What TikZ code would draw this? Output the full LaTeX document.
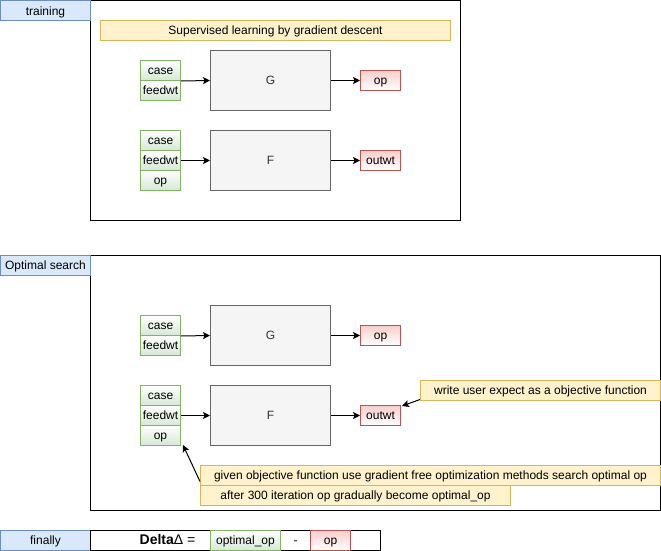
\documentclass[tikz,border=0pt]{standalone}
\usepackage{fontspec}
\setmainfont{Liberation Sans}
\usetikzlibrary{arrows.meta}
\definecolor{bluef}{HTML}{DAE8FC}
\definecolor{blued}{HTML}{6C8EBF}
\definecolor{yelf}{HTML}{FFF2CC}
\definecolor{yeld}{HTML}{D6B656}
\definecolor{greenf}{HTML}{D5E8D4}
\definecolor{greend}{HTML}{82B366}
\definecolor{redf}{HTML}{F8CECC}
\definecolor{redd}{HTML}{B85450}
\definecolor{grayf}{HTML}{F5F5F5}
\definecolor{grayd}{HTML}{666666}
\definecolor{txt}{HTML}{333333}
\tikzset{
  base/.style={rectangle, inner sep=0pt, anchor=north west, line width=1pt, font=\fontsize{12}{14}\selectfont, text height=10.9pt, text depth=2.5pt},
  lbl/.style={base, draw=blued, fill=bluef, minimum width=90pt, minimum height=20pt},
  frame/.style={draw=black, line width=1pt},
  note/.style={base, draw=yeld, fill=yelf, minimum height=20pt},
  inp/.style={base, draw=greend, top color=white, bottom color=greenf, minimum width=40pt, minimum height=20pt},
  outp/.style={base, draw=redd, top color=redf, bottom color=white, minimum width=40pt, minimum height=20pt},
  func/.style={base, draw=grayd, fill=grayf, text=txt, minimum width=120pt, minimum height=60pt},
  arr/.style={-{Stealth[length=7pt,width=7pt,inset=1.5pt]}, line width=1pt},
}
\begin{document}
\begin{tikzpicture}[x=1pt,y=-1pt]
\useasboundingbox (0,0) rectangle (661,551);
% training
\draw[frame] (90,0.5) rectangle (460,220);
\node[lbl] (ltrain) at (0,0.5) {training};
\node[note, minimum width=350pt] (sup) at (100,20) {Supervised learning by gradient descent};
\node[inp] (gcase1) at (140,60) {case};
\node[inp] (gfeed1) at (140,80) {feedwt};
\node[func] (G1) at (210,50) {G};
\node[outp] (gop1) at (360,70) {op};
\node[inp] (fcase1) at (140,130) {case};
\node[inp] (ffeed1) at (140,150) {feedwt};
\node[inp] (fop1) at (140,170) {op};
\node[func] (F1) at (210,130) {F};
\node[outp] (fout1) at (360,150) {outwt};
\draw[arr] (gcase1.south east) -- (G1.west);
\draw[arr] (G1.east) -- (gop1.west);
\draw[arr] (ffeed1.east) -- (F1.west);
\draw[arr] (F1.east) -- (fout1.west);
% optimal search
\draw[frame] (90,255) rectangle (660,510);
\node[lbl] (lopt) at (0,255) {Optimal search};
\node[inp] (gcase2) at (140,315) {case};
\node[inp] (gfeed2) at (140,335) {feedwt};
\node[func] (G2) at (210,305) {G};
\node[outp] (gop2) at (360,325) {op};
\node[inp] (fcase2) at (140,385) {case};
\node[inp] (ffeed2) at (140,405) {feedwt};
\node[inp] (fop2) at (140,425) {op};
\node[func] (F2) at (210,385) {F};
\node[outp] (fout2) at (360,405) {outwt};
\draw[arr] (gcase2.south east) -- (G2.west);
\draw[arr] (G2.east) -- (gop2.west);
\draw[arr] (ffeed2.east) -- (F2.west);
\draw[arr] (F2.east) -- (fout2.west);
\node[note, minimum width=240pt] (wr) at (420,380) {write user expect as a objective function};
\node[note, minimum width=460pt] (given) at (200,465) {given objective function use gradient free optimization methods search optimal op};
\node[note, minimum width=310pt] (after) at (200,485) {after 300 iteration op gradually become optimal\_op};
\draw[arr] ([yshift=-9pt]wr.west) -- ([xshift=1pt,yshift=-1pt]fout2.north east);
\draw[arr] ([yshift=-6pt]given.west) -- ([xshift=2pt,yshift=1pt]fop2.south east);
% finally
\node[lbl] (lfin) at (0,530) {finally};
\node[base, draw=black, minimum width=290pt, minimum height=20pt] (finbox) at (90,530) {};
\node[base, anchor=center] (delta) at (167.5,540) {\fontsize{14}{16}\selectfont\bfseries Delta\mdseries Δ =};
\node[inp, minimum width=70pt] (optop) at (210,530) {optimal\_op};
\node[base, minimum width=30pt, minimum height=20pt] (minus) at (280,530) {-};
\node[outp] (opf) at (310,530) {op};
\end{tikzpicture}
\end{document}
